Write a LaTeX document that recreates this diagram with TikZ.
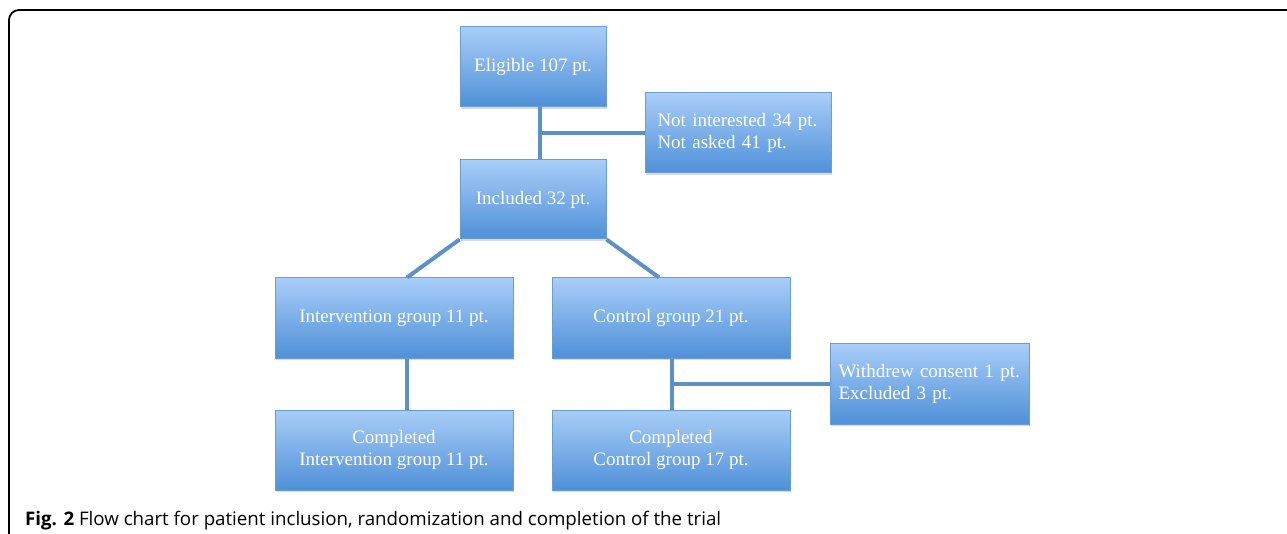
\documentclass[tikz,border=0pt]{standalone}
\usepackage{fontspec}
\setmainfont{Liberation Serif}
\newfontfamily\capfont{Open Sans}
\usetikzlibrary{shadows}

\definecolor{boxtop}{HTML}{A8CDF8}
\definecolor{boxbot}{HTML}{4F90D8}
\definecolor{boxline}{HTML}{6C9DD2}
\definecolor{linkcol}{HTML}{5E90C8}

\tikzset{
  flowbox/.style={draw=boxline, line width=1pt, top color=boxtop, bottom color=boxbot,
    text=white, font=\fontsize{19}{22}\selectfont, align=center, inner sep=0pt,
    minimum height=80pt,
    drop shadow={shadow xshift=1pt, shadow yshift=-2pt, opacity=0.3}},
  sidebox/.style={flowbox, align=left},
  link/.style={draw=linkcol, line width=4pt}
}

\begin{document}
\begin{tikzpicture}[x=1pt, y=-1pt]

  % Fix the page size
  \useasboundingbox (0,0) rectangle (1287,534);

  % Draw the frame with its rounded corner
  \draw[line width=1.8pt, rounded corners=10pt] (9,534) -- (9,10) -- (1287,10);

  % Place the boxes of the main line
  \node[flowbox, minimum width=146pt] (elig) at (533,67) {Eligible 107 pt.};
  \node[flowbox, minimum width=146pt, minimum height=79pt] (incl) at (533,199.5) {Included 32 pt.};
  \node[flowbox, minimum width=238pt] (interv) at (394,318) {Intervention group 11 pt.};
  \node[flowbox, minimum width=238pt] (ctrl) at (671,318) {Control group 21 pt.};
  \node[flowbox, minimum width=238pt] (compint) at (394,450) {Completed\\Intervention group 11 pt.};
  \node[flowbox, minimum width=238pt] (compctrl) at (671,450) {Completed\\Control group 17 pt.};

  % Place the boxes for the drop-outs
  \node[sidebox, minimum width=186pt, text width=161pt] (notint) at (738,133) {Not interested 34 pt.\\Not asked 41 pt.};
  \node[sidebox, minimum width=199pt, text width=182pt] (withdrew) at (929.5,384) {Withdrew consent 1 pt.\\Excluded 3 pt.};

  % Junction points on the vertical lines
  \coordinate (j1) at ([xshift=7pt]elig.south |- notint.west);
  \coordinate (j2) at ([xshift=1pt]ctrl.south |- withdrew.west);

  % Draw the connectors
  \draw[link] ([xshift=7pt]elig.south) -- ([xshift=7pt]incl.north);
  \draw[link] (j1) -- (notint.west);
  \draw[link] (incl.south west) -- ([xshift=13pt]interv.north);
  \draw[link] (incl.south east) -- ([xshift=-12pt]ctrl.north);
  \draw[link] ([xshift=13pt]interv.south) -- ([xshift=13pt]compint.north);
  \draw[link] ([xshift=1pt]ctrl.south) -- ([xshift=1pt]compctrl.north);
  \draw[link] (j2) -- (withdrew.west);

  % Caption below the chart
  \node[anchor=base west, inner sep=0pt, font=\capfont\fontsize{18.7}{21}\selectfont] (cap) at (25,525)
    {\textbf{Fig. 2} Flow chart for patient inclusion, randomization and completion of the trial};

\end{tikzpicture}
\end{document}
